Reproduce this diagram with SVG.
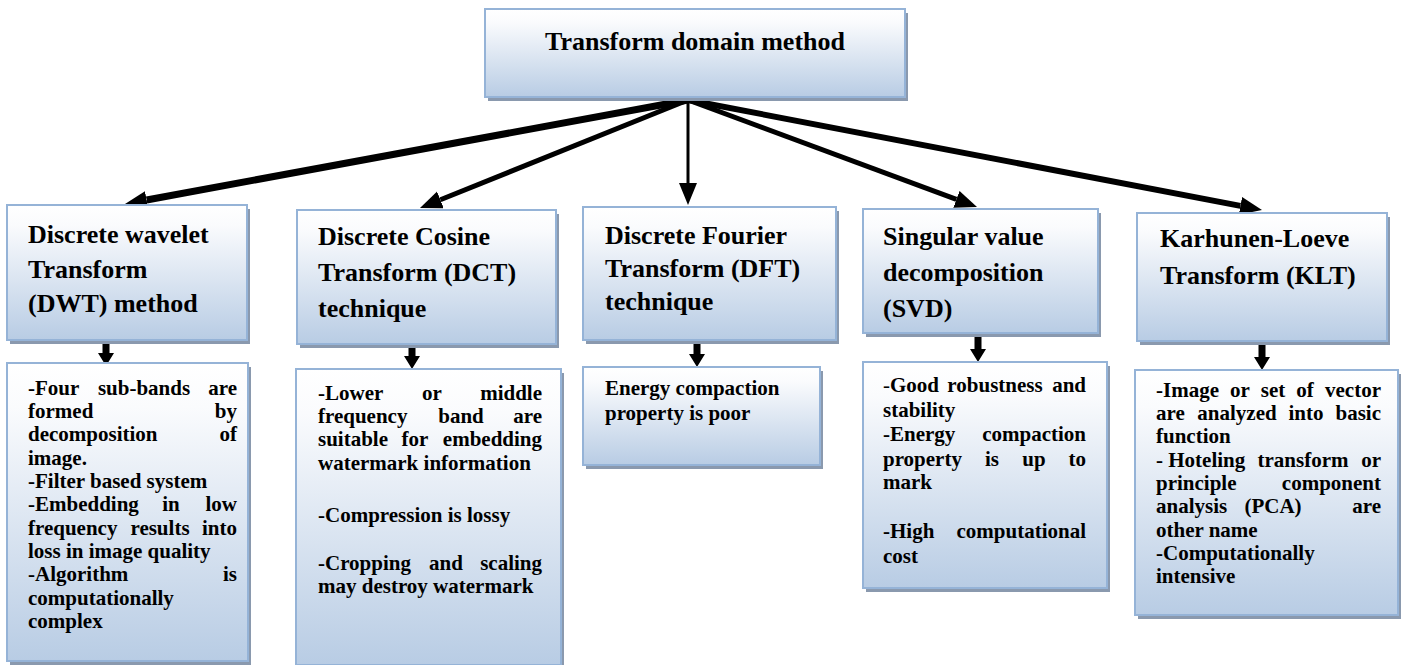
<svg xmlns="http://www.w3.org/2000/svg" width="1407" height="665" viewBox="0 0 1407 665">
<defs>
<linearGradient id="g" x1="0" y1="0" x2="0" y2="1">
<stop offset="0" stop-color="#ffffff"/>
<stop offset="0.15" stop-color="#fafbfd"/>
<stop offset="1" stop-color="#b8cce4"/>
</linearGradient>
<marker id="ah" markerUnits="userSpaceOnUse" markerWidth="24" markerHeight="20" refX="0" refY="9" orient="auto">
<path d="M0,0 L22,9 L0,18 Z" fill="#000"/>
</marker>
<style>
.sh{fill:#8a99ae}
.bx{fill:url(#g);stroke:#95b3d7;stroke-width:2}
.h{font-family:"Liberation Serif","Times New Roman",serif;font-weight:bold;font-size:26px;fill:#000}
.t{font-family:"Liberation Serif","Times New Roman",serif;font-weight:bold;font-size:21px;fill:#000}
.e{text-anchor:end}
.m{text-anchor:middle}
.c{stroke:#000;fill:none;marker-end:url(#ah)}
.da{fill:#000}
</style>
</defs>

<g id="connectors">
<line class="c" x1="688" y1="100" x2="146.6" y2="200" stroke-width="7"/>
<line class="c" x1="688" y1="100" x2="440.4" y2="199.8" stroke-width="5"/>
<line class="c" x1="688" y1="100" x2="688" y2="183" stroke-width="3"/>
<line class="c" x1="688" y1="100" x2="956.4" y2="199.4" stroke-width="5"/>
<line class="c" x1="688" y1="100" x2="1240.4" y2="205.9" stroke-width="6"/>
<path class="da" d="M102.5,344 V353 H98 L106,366 L114,353 H109.5 V344 Z"/>
<path class="da" d="M408.5,348 V356 H404 L412,369 L420,356 H415.5 V348 Z"/>
<path class="da" d="M693.5,343 V354 H689 L697,367 L705,354 H700.5 V343 Z"/>
<path class="da" d="M974.5,337 V349 H970 L978,362 L986,349 H981.5 V337 Z"/>
<path class="da" d="M1258.5,345 V357 H1254 L1262,370 L1270,357 H1265.5 V345 Z"/>
</g>

<g id="root">
<rect class="sh" x="488" y="13" width="420" height="88"/>
<rect class="bx" x="485" y="9" width="420" height="88"/>
<text class="h m" x="695" y="50">Transform domain method</text>
</g>

<g id="dwt">
<rect class="sh" x="10" y="209" width="240" height="135"/>
<rect class="bx" x="7" y="205" width="240" height="135"/>
<text class="h" x="28" y="243">Discrete wavelet</text>
<text class="h" x="28" y="278">Transform</text>
<text class="h" x="28" y="312">(DWT) method</text>
</g>

<g id="dct">
<rect class="sh" x="300" y="214" width="259" height="134"/>
<rect class="bx" x="297" y="210" width="259" height="134"/>
<text class="h" x="318" y="245">Discrete Cosine</text>
<text class="h" x="318" y="281">Transform (DCT)</text>
<text class="h" x="318" y="317">technique</text>
</g>

<g id="dft">
<rect class="sh" x="586" y="211" width="253" height="133"/>
<rect class="bx" x="583" y="207" width="253" height="133"/>
<text class="h" x="605" y="244">Discrete Fourier</text>
<text class="h" x="605" y="277">Transform (DFT)</text>
<text class="h" x="605" y="310">technique</text>
</g>

<g id="svd">
<rect class="sh" x="866" y="213" width="235" height="124"/>
<rect class="bx" x="863" y="209" width="235" height="124"/>
<text class="h" x="883" y="245">Singular value</text>
<text class="h" x="883" y="281">decomposition</text>
<text class="h" x="883" y="317">(SVD)</text>
</g>

<g id="klt">
<rect class="sh" x="1140" y="217" width="250" height="128"/>
<rect class="bx" x="1137" y="213" width="250" height="128"/>
<text class="h" x="1160" y="247">Karhunen-Loeve</text>
<text class="h" x="1160" y="284">Transform (KLT)</text>
</g>

<g id="dwt-details">
<rect class="sh" x="10" y="367" width="241" height="298"/>
<rect class="bx" x="7" y="363" width="241" height="298"/>
<text class="t" x="28" y="395">-Four</text><text class="t m" x="144" y="395">sub-bands</text><text class="t e" x="237" y="395">are</text>
<text class="t" x="28" y="418">formed</text><text class="t e" x="237" y="418">by</text>
<text class="t" x="28" y="441">decomposition</text><text class="t e" x="237" y="441">of</text>
<text class="t" x="28" y="465">image.</text>
<text class="t" x="28" y="488">-Filter based system</text>
<text class="t" x="28" y="511">-Embedding</text><text class="t m" x="171" y="511">in</text><text class="t e" x="237" y="511">low</text>
<text class="t" x="28" y="535">frequency</text><text class="t m" x="160" y="535">results</text><text class="t e" x="237" y="535">into</text>
<text class="t" x="28" y="558">loss in image quality</text>
<text class="t" x="28" y="581">-Algorithm</text><text class="t e" x="237" y="581">is</text>
<text class="t" x="28" y="605">computationally</text>
<text class="t" x="28" y="628">complex</text>
</g>

<g id="dct-details">
<rect class="sh" x="299" y="373" width="265" height="296"/>
<rect class="bx" x="296" y="369" width="265" height="296"/>
<text class="t" x="318" y="400">-Lower</text><text class="t m" x="432" y="400">or</text><text class="t e" x="542" y="400">middle</text>
<text class="t" x="318" y="423">frequency</text><text class="t m" x="461" y="423">band</text><text class="t e" x="542" y="423">are</text>
<text class="t" x="318" y="446">suitable</text><text class="t m" x="415" y="446">for</text><text class="t e" x="542" y="446">embedding</text>
<text class="t" x="318" y="470">watermark information</text>
<text class="t" x="318" y="522">-Compression is lossy</text>
<text class="t" x="318" y="570">-Cropping</text><text class="t m" x="446" y="570">and</text><text class="t e" x="542" y="570">scaling</text>
<text class="t" x="318" y="593">may destroy watermark</text>
</g>

<g id="dft-details">
<rect class="sh" x="586" y="371" width="237" height="98"/>
<rect class="bx" x="583" y="367" width="237" height="98"/>
<text class="t" x="605" y="395">Energy compaction</text>
<text class="t" x="605" y="420">property is poor</text>
</g>

<g id="svd-details">
<rect class="sh" x="866" y="366" width="244" height="226"/>
<rect class="bx" x="863" y="362" width="244" height="226"/>
<text class="t" x="883" y="392"><tspan font-weight="normal">-</tspan>Good</text><text class="t m" x="995" y="392">robustness</text><text class="t e" x="1086" y="392">and</text>
<text class="t" x="883" y="417">stability</text>
<text class="t" x="883" y="441">-Energy</text><text class="t e" x="1086" y="441">compaction</text>
<text class="t" x="883" y="466">property</text><text class="t m" x="992" y="466">is</text><text class="t m" x="1034" y="466">up</text><text class="t e" x="1086" y="466">to</text>
<text class="t" x="883" y="489">mark</text>
<text class="t" x="883" y="538">-High</text><text class="t e" x="1086" y="538">computational</text>
<text class="t" x="883" y="563">cost</text>
</g>

<g id="klt-details">
<rect class="sh" x="1138" y="374" width="263" height="245"/>
<rect class="bx" x="1135" y="370" width="263" height="245"/>
<text class="t" x="1156" y="397">-Image</text><text class="t m" x="1240" y="397">or</text><text class="t m" x="1273" y="397">set</text><text class="t m" x="1305" y="397">of</text><text class="t e" x="1381" y="397">vector</text>
<text class="t" x="1156" y="420">are</text><text class="t m" x="1237" y="420">analyzed</text><text class="t m" x="1306" y="420">into</text><text class="t e" x="1381" y="420">basic</text>
<text class="t" x="1156" y="443">function</text>
<text class="t" x="1156" y="467">- Hoteling</text><text class="t m" x="1303" y="467">transform</text><text class="t e" x="1381" y="467">or</text>
<text class="t" x="1156" y="490">principle</text><text class="t e" x="1381" y="490">component</text>
<text class="t" x="1156" y="513">analysis</text><text class="t m" x="1273" y="513">(PCA)</text><text class="t e" x="1381" y="513">are</text>
<text class="t" x="1156" y="537">other name</text>
<text class="t" x="1156" y="560">-Computationally</text>
<text class="t" x="1156" y="583">intensive</text>
</g>
</svg>
